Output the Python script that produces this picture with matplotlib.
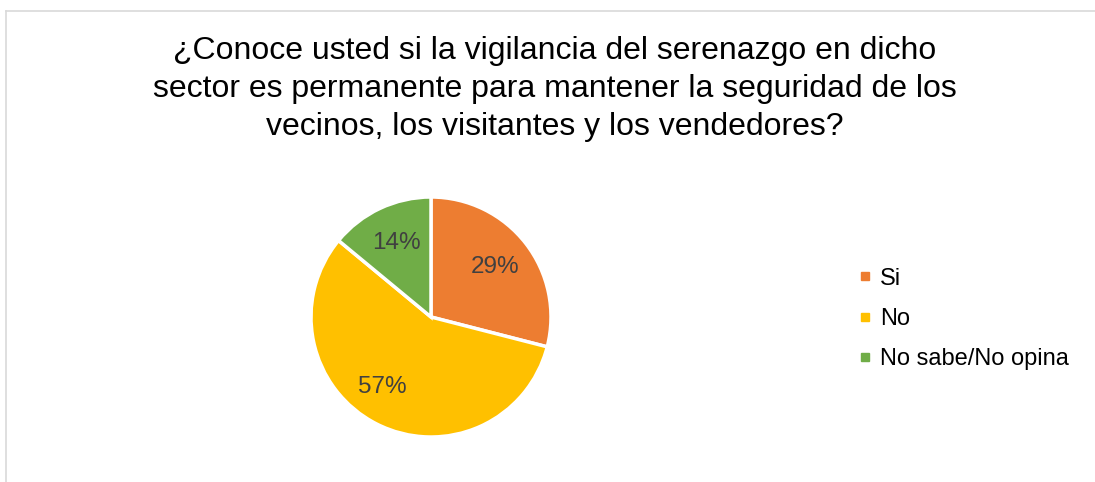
import matplotlib
matplotlib.use("Agg")
import matplotlib.pyplot as plt
from matplotlib.lines import Line2D

categories = ["Si", "No", "No sabe/No opina"]
values = [29, 57, 14]
colors = ["#ED7D31", "#FFC000", "#70AD47"]
title = ("¿Conoce usted si la vigilancia del serenazgo en dicho\n"
         "sector es permanente para mantener la seguridad de los\n"
         "vecinos, los visitantes y los vendedores?")

plt.rcParams['font.family'] = ['Liberation Sans', 'DejaVu Sans']

W, H = 1095, 482
fig = plt.figure(figsize=(W / 100, H / 100), dpi=100)

# border (left and top only; the chart frame is cut off at right/bottom)
border = dict(color="#D9D9D9", linewidth=1.2, transform=fig.transFigure)
fig.add_artist(Line2D([5.5 / W, 5.5 / W], [0, (H - 10.5) / H], **border))
fig.add_artist(Line2D([5.5 / W, 1], [(H - 10.5) / H, (H - 10.5) / H], **border))

# pie axes: center (431,317) radius 120 px
cx, cy, r = 431, 317, 120
ax = fig.add_axes([(cx - r) / W, (H - cy - r) / H, 2 * r / W, 2 * r / H])
wedges, texts, autotexts = ax.pie(
    values, colors=colors, startangle=90, counterclock=False,
    autopct=lambda p: f"{p:.0f}%", pctdistance=0.68,
    wedgeprops=dict(edgecolor="white", linewidth=2.5),
    textprops=dict(color="#404040", fontsize=17.5))
# the large slice's label sits a bit further left in the original
x0, y0 = autotexts[1].get_position()
autotexts[1].set_position((x0 - 0.1, y0 + 0.02))
ax.set_xlim(-1, 1)
ax.set_ylim(-1, 1)
ax.set_aspect("equal")
ax.axis("off")

fig.text(555 / W, (H - 89) / H, title, ha="center", va="center",
         fontsize=23, color="#000000", linespacing=1.36)

handles = [Line2D([], [], linestyle="none", marker="s", markersize=5.5,
                  markerfacecolor=c, markeredgecolor=c) for c in colors]
fig.legend(handles, categories, loc="center left",
           bbox_to_anchor=(859 / W, (H - 319) / H), frameon=False,
           fontsize=17, handlelength=0.5, handletextpad=0.4,
           labelspacing=0.78, borderaxespad=0, borderpad=0)

fig.savefig("out.png", dpi=100)
